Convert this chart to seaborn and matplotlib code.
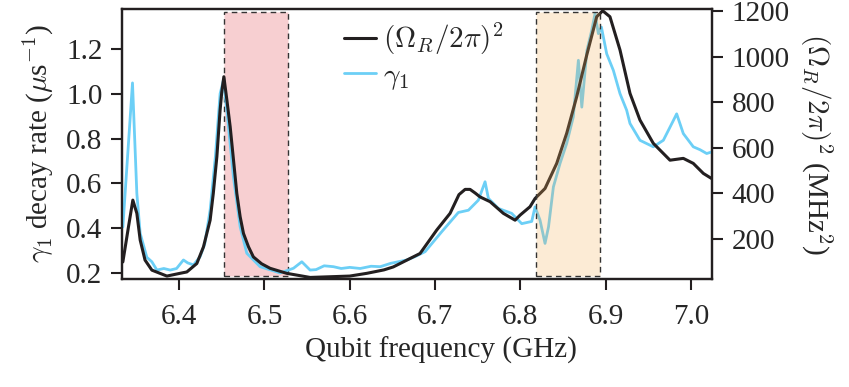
import numpy as np
import pandas as pd
import matplotlib
matplotlib.use('Agg')
import matplotlib.pyplot as plt
import seaborn as sns
from matplotlib.patches import Rectangle

# Rabi frequency squared (right axis, MHz^2)
freq_omega = [6.334, 6.3406, 6.3457, 6.3504, 6.3543, 6.360, 6.368, 6.3856, 6.401, 6.409,
              6.4207, 6.4285, 6.4363, 6.440, 6.4442, 6.448, 6.450, 6.4524, 6.4559, 6.4598,
              6.4637, 6.4676, 6.4715, 6.4754, 6.4812, 6.487, 6.4966, 6.5066, 6.526, 6.5535,
              6.6, 6.62, 6.64, 6.651, 6.6824, 6.702, 6.7176, 6.728, 6.7352, 6.741,
              6.747, 6.7527, 6.7645, 6.780, 6.7938, 6.7996, 6.8113, 6.8172, 6.8289, 6.8426,
              6.8543, 6.866, 6.8778, 6.8895, 6.8965, 6.905, 6.9168, 6.9285, 6.9402, 6.9558,
              6.9754, 6.991, 7.0027, 7.0145, 7.024]
omega_sq = [100, 254, 371, 313, 196, 108, 64, 38, 50, 56,
            93, 166, 283, 400, 561, 766, 847, 912, 811, 693,
            547, 400, 298, 225, 167, 122, 92, 72, 50, 32,
            38, 50, 65, 78, 137, 240, 313, 395, 418, 418,
            402, 385, 364, 313, 283, 305, 342, 378, 422, 532,
            664, 824, 1007, 1175, 1201, 1175, 1029, 839, 722, 620,
            546, 554, 532, 488, 466]

# measured decay rate (left axis, 1/us)
freq_gamma = [6.334, 6.3406, 6.3453, 6.3504, 6.3543, 6.3621, 6.368, 6.3739, 6.382, 6.3895,
              6.397, 6.405, 6.410, 6.4168, 6.4246, 6.430, 6.4363, 6.4425, 6.448, 6.4519,
              6.4559, 6.4636, 6.4715, 6.4793, 6.4949, 6.5184, 6.534, 6.5438, 6.5535, 6.5605,
              6.570, 6.5809, 6.590, 6.600, 6.6122, 6.625, 6.6357, 6.648, 6.6669, 6.6766,
              6.6883, 6.7078, 6.7273, 6.7391, 6.7508, 6.7586, 6.7625, 6.7742, 6.7898, 6.8016,
              6.8133, 6.8172, 6.8230, 6.8289, 6.8330, 6.8387, 6.8465, 6.8543, 6.862, 6.868,
              6.872, 6.878, 6.8836, 6.8875, 6.8914, 6.8950, 6.9012, 6.909, 6.9168, 6.9246,
              6.9285, 6.9402, 6.9558, 6.9676, 6.9793, 6.9832, 6.991, 7.0027, 7.0106, 7.0184,
              7.0243]
gamma_1 = [0.405, 0.78, 1.048, 0.555, 0.377, 0.27, 0.25, 0.213, 0.22, 0.213,
           0.22, 0.258, 0.245, 0.236, 0.273, 0.33, 0.48, 0.72, 1.0, 1.06,
           0.926, 0.629, 0.406, 0.288, 0.228, 0.2, 0.221, 0.25, 0.213, 0.215,
           0.232, 0.228, 0.22, 0.225, 0.22, 0.23, 0.228, 0.243, 0.258, 0.273,
           0.295, 0.384, 0.47, 0.48, 0.525, 0.607, 0.533, 0.488, 0.466, 0.42,
           0.43, 0.495, 0.436, 0.332, 0.406, 0.584, 0.689, 0.778, 0.896, 1.149,
           0.94, 1.193, 1.282, 1.357, 1.268, 1.297, 1.178, 1.104, 1.0, 0.926,
           0.867, 0.792, 0.763, 0.792, 0.88, 0.91, 0.822, 0.763, 0.75, 0.733,
           0.74]

# highlighted frequency windows
pink_span = [6.4527, 6.5274]
orange_span = [6.818, 6.8934]

df_omega = pd.DataFrame({'f': freq_omega, 'val': omega_sq})
df_gamma = pd.DataFrame({'f': freq_gamma, 'val': gamma_1})

sns.set_style('ticks')
plt.rcParams['font.family'] = ['Liberation Serif', 'DejaVu Serif']
plt.rcParams['mathtext.fontset'] = 'cm'
plt.rcParams['font.size'] = 21

fig = plt.figure(figsize=(8.49, 3.87), dpi=100)
ax = fig.add_axes([0.1437, 0.279, 0.6949, 0.699])
ax2 = ax.twinx()

sns.lineplot(data=df_gamma, x='f', y='val', ax=ax, color='#6ccff6', lw=2.0,
             label=r'$\gamma_1$', legend=False, zorder=3)
sns.lineplot(data=df_omega, x='f', y='val', ax=ax2, color='#231f20', lw=2.2,
             label=r'$(\Omega_R/2\pi)^2$', legend=False, zorder=3)

# shaded windows
trans = ax.get_xaxis_transform()
ax.add_patch(Rectangle((pink_span[0], 0.011), pink_span[1] - pink_span[0], 0.977,
                       transform=trans, facecolor='#f7cfd1', edgecolor='#333333',
                       lw=1.0, ls=(0, (4, 3)), zorder=1))
trans2 = ax2.get_xaxis_transform()
ax2.add_patch(Rectangle((orange_span[0], 0.011), orange_span[1] - orange_span[0], 0.977,
                        transform=trans2, facecolor=(0.96, 0.69, 0.35, 0.25),
                        edgecolor='#333333', lw=1.0, ls=(0, (4, 3)), zorder=5))

ax.set_xlim(6.333, 7.0246)
ax.set_ylim(0.173, 1.38)
ax2.set_ylim(25, 1211)

ax.set_xticks([6.4, 6.5, 6.6, 6.7, 6.8, 6.9, 7.0])
ax.set_yticks([0.2, 0.4, 0.6, 0.8, 1.0, 1.2])
ax2.set_yticks([200, 400, 600, 800, 1000, 1200])
ax.xaxis.set_major_formatter(matplotlib.ticker.FormatStrFormatter('%.1f'))
ax.yaxis.set_major_formatter(matplotlib.ticker.FormatStrFormatter('%.1f'))

ax.set_xlabel('Qubit frequency (GHz)')
ax.xaxis.set_label_coords(0.541, -0.215)
ax.set_ylabel(r'$\gamma_1$ decay rate ($\mu$s$^{-1}$)', labelpad=8)
ax2.set_ylabel(r'$(\Omega_R/2\pi)^2$ (MHz$^2$)', rotation=270, labelpad=32)

for a in (ax, ax2):
    a.tick_params(length=8, width=1.5, labelsize=21, color='#231f20')
    for s in a.spines.values():
        s.set_linewidth(1.6)
        s.set_color('#231f20')
ax.tick_params(axis='x', pad=10)
ax.tick_params(axis='y', pad=6)
ax2.tick_params(axis='y', pad=6)

h1, l1 = ax2.get_legend_handles_labels()
h2, l2 = ax.get_legend_handles_labels()
leg = ax2.legend(h1 + h2, l1 + l2, loc='upper left', bbox_to_anchor=(0.331, 1.05),
                 frameon=False, handlelength=1.1, handletextpad=0.25,
                 labelspacing=0.2, fontsize=21)
leg.set_zorder(10)

plt.savefig('out.png', dpi=100)
